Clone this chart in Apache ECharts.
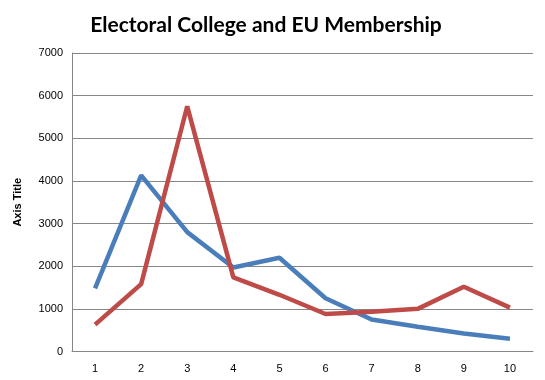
<!DOCTYPE html>
<html><head><meta charset="utf-8">
<script src="https://cdn.jsdelivr.net/npm/echarts@6/dist/echarts.min.js"></script>
<style>html,body{margin:0;padding:0;background:#fff}#c{width:545px;height:380px}</style>
</head><body><div id="c"></div>
<script>
const categories = ['1','2','3','4','5','6','7','8','9','10'];
const seriesBlue = [1480, 4130, 2800, 1970, 2200, 1250, 750, 580, 420, 300];
const seriesRed = [630, 1580, 5750, 1740, 1330, 880, 930, 1000, 1520, 1030];
const chart = echarts.init(document.getElementById('c'));
chart.setOption({
  animation: false,
  title: {
    text: 'Electoral College and EU Membership',
    left: 261, top: 10, textAlign: 'center',
    textStyle: {fontFamily: 'Lato', fontWeight: 'bold', fontSize: 21, color: '#000'}
  },
  grid: {left: 72, right: 12, top: 53, bottom: 28.5},
  xAxis: {
    type: 'category', data: categories, boundaryGap: true,
    axisLine: {lineStyle: {color: '#868686', width: 1}},
    axisTick: {show: false},
    axisLabel: {color: '#000', fontSize: 11, fontFamily: 'Liberation Sans', margin: 12}
  },
  yAxis: {
    type: 'value', min: 0, max: 7000, interval: 1000,
    name: 'Axis Title', nameLocation: 'middle', nameGap: 49, nameRotate: 90,
    nameTextStyle: {fontWeight: 'bold', fontSize: 11, fontFamily: 'Liberation Sans', color: '#000'},
    axisLine: {show: true, lineStyle: {color: '#868686', width: 1}},
    axisTick: {show: false},
    splitLine: {lineStyle: {color: '#868686', width: 1}},
    axisLabel: {color: '#000', fontSize: 11, fontFamily: 'Liberation Sans', margin: 9, formatter: v => String(v)}
  },
  series: [
    {type: 'line', data: seriesBlue, symbol: 'none', lineStyle: {color: '#4A7EBB', width: 4.5}, itemStyle: {color: '#4A7EBB'}},
    {type: 'line', data: seriesRed, symbol: 'none', lineStyle: {color: '#BE4B48', width: 4.5}, itemStyle: {color: '#BE4B48'}}
  ]
});
</script></body></html>
